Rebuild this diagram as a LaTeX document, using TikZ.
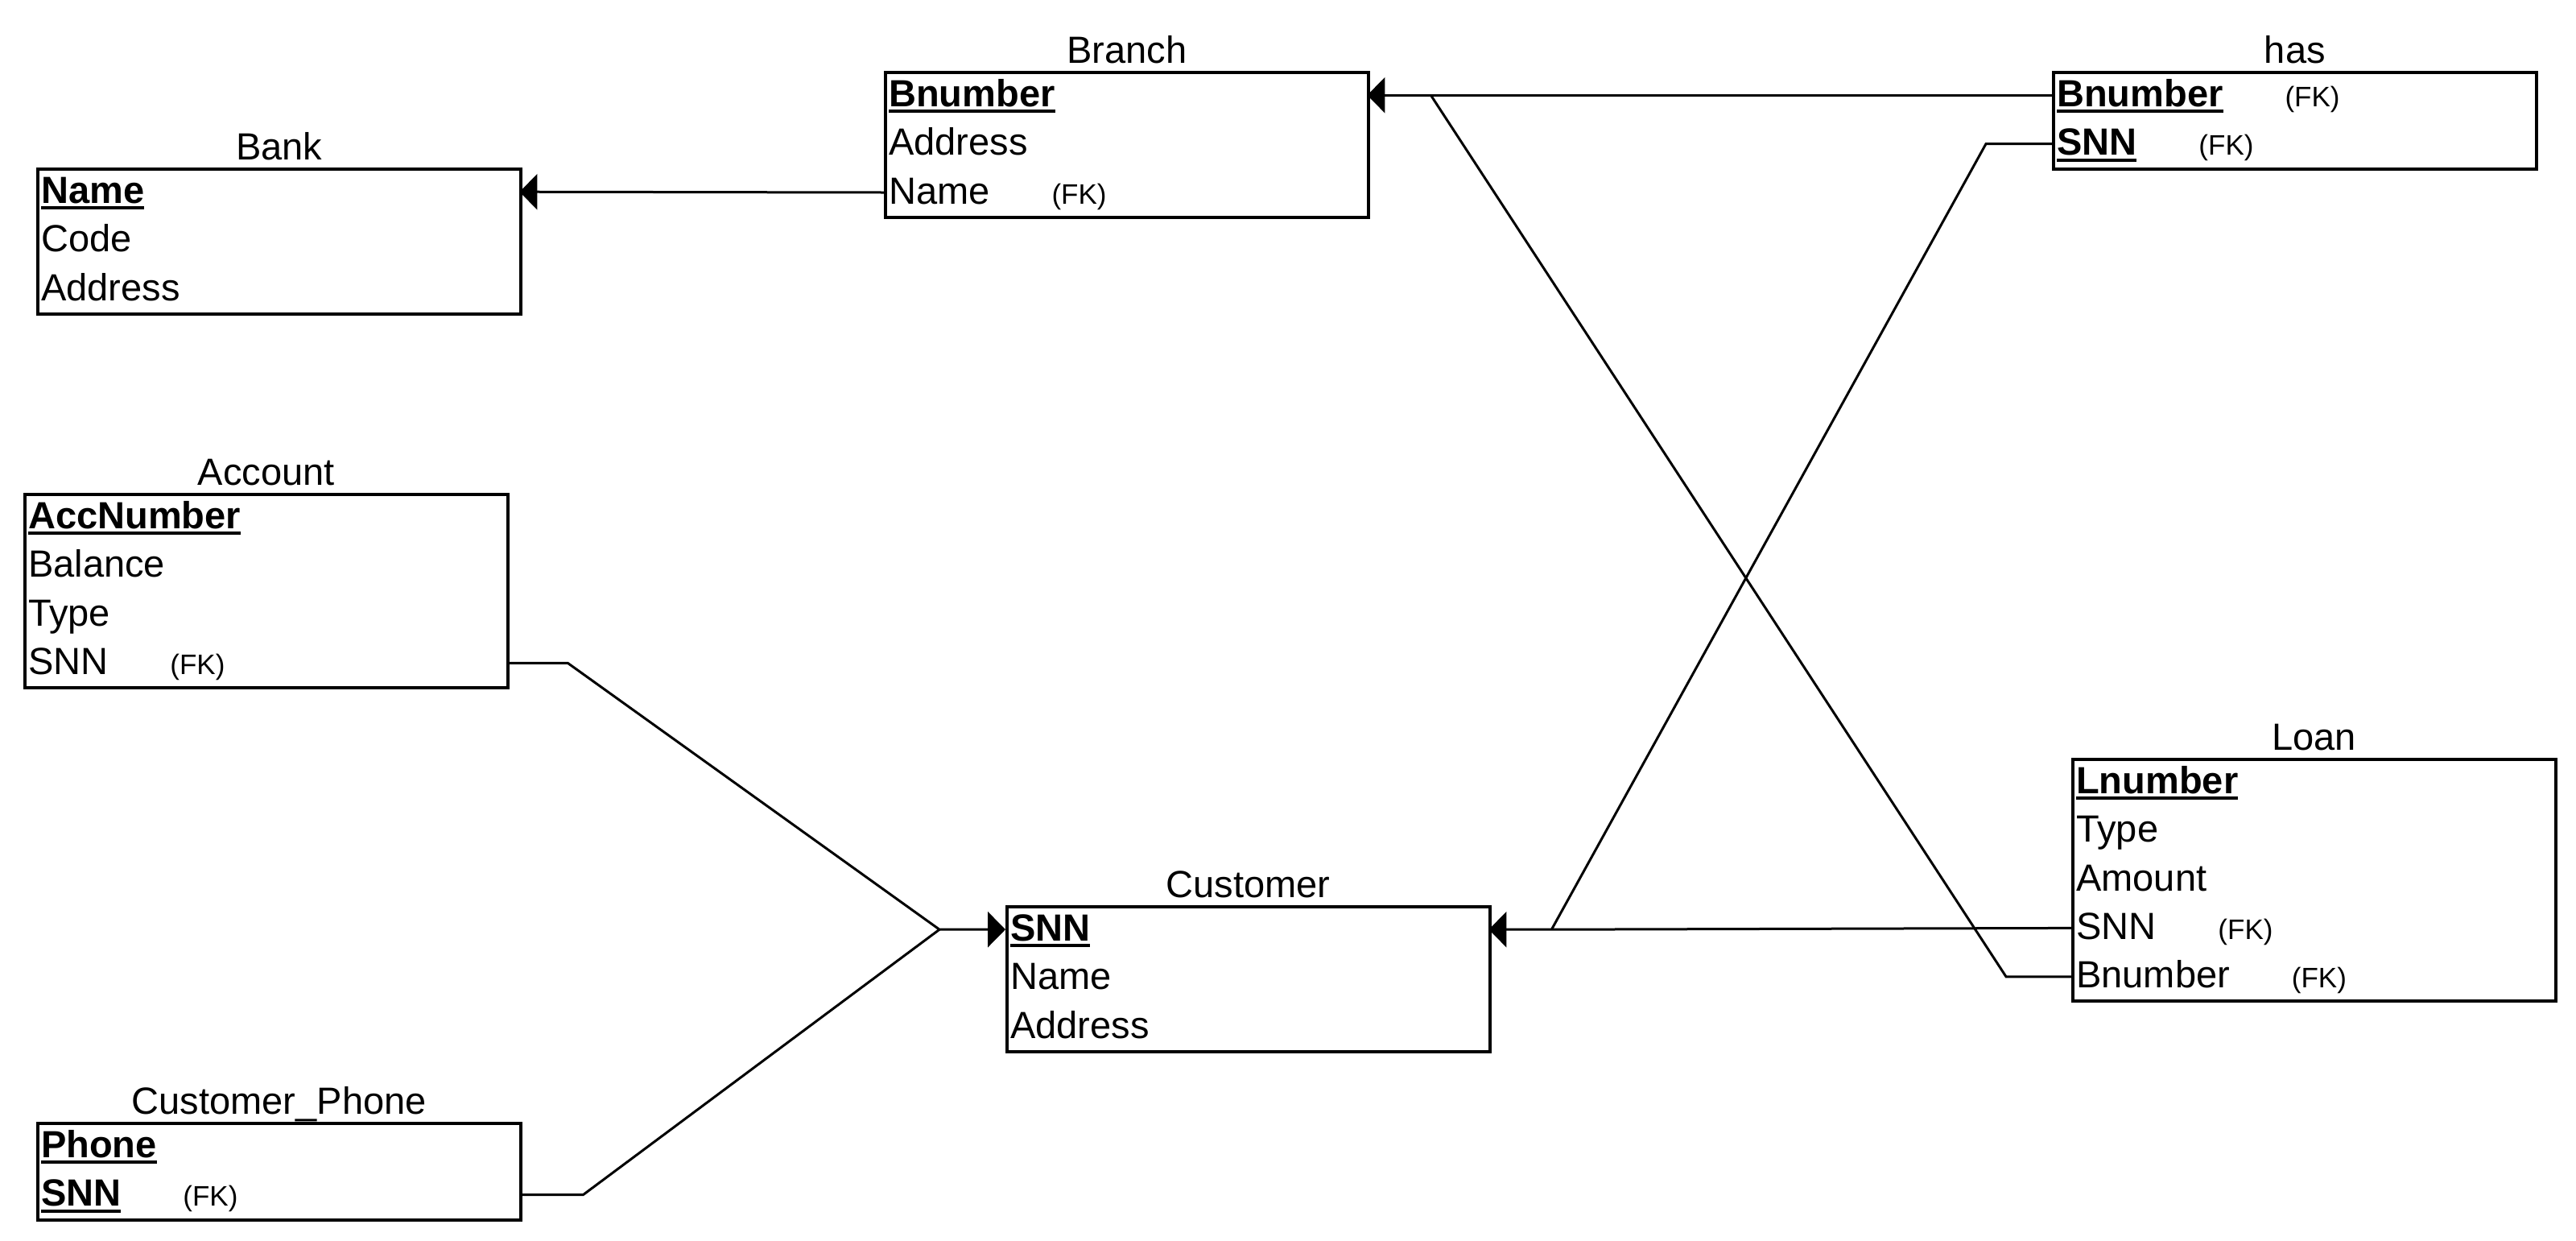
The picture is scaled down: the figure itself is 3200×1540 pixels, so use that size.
\documentclass[tikz,border=0pt]{standalone}
\usepackage{fontspec}
\setmainfont{Liberation Sans}
\usetikzlibrary{arrows.meta,calc}
\newcommand\pkey[1]{\setbox0\hbox{\bfseries #1}\rlap{\rule[-8pt]{\wd0}{4pt}}\box0}
\newcommand\fkmark{\hspace{77pt}{\fontsize{35}{40}\selectfont (FK)}}
\begin{document}
\begin{tikzpicture}[x=1pt,y=-1pt,
  tbl/.style={draw, line width=3.5pt, rectangle, minimum width=600pt, inner sep=0pt, anchor=north west},
  rowbox/.style={rectangle, minimum width=600pt, minimum height=60pt, inner xsep=6pt, inner ysep=0pt, text width=588pt, align=left, text height=36pt, text depth=8pt, anchor=north west, font=\fontsize{47}{50}\selectfont},
  ttl/.style={anchor=base, inner sep=0pt, font=\fontsize{47}{50}\selectfont},
  link/.style={line width=3pt},
  fkarrow/.style={link, -{Triangle[length=22pt,width=44pt]}}]
\useasboundingbox[fill=white] (0,0) rectangle (3200,1540);

% Bank
\node[tbl, minimum height=180pt] (bank) at (45,208) {};
\node[ttl] (bank-t) at ($(bank.north)+(0,-10)$) {Bank};
\node[rowbox] (bank-1) at (bank.north west) {\pkey{Name}};
\node[rowbox] (bank-2) at (bank-1.south west) {Code};
\node[rowbox] (bank-3) at (bank-2.south west) {Address};

% Branch
\node[tbl, minimum height=180pt] (branch) at (1098,88) {};
\node[ttl] (branch-t) at ($(branch.north)+(0,-10)$) {Branch};
\node[rowbox] (branch-1) at (branch.north west) {\pkey{Bnumber}};
\node[rowbox] (branch-2) at (branch-1.south west) {Address};
\node[rowbox] (branch-3) at (branch-2.south west) {Name\fkmark};

% has
\node[tbl, minimum height=120pt] (has) at (2549,88) {};
\node[ttl] (has-t) at ($(has.north)+(0,-10)$) {has};
\node[rowbox] (has-1) at (has.north west) {\pkey{Bnumber}\fkmark};
\node[rowbox] (has-2) at (has-1.south west) {\pkey{SNN}\fkmark};

% Account
\node[tbl, minimum height=240pt] (acc) at (29,612) {};
\node[ttl] (acc-t) at ($(acc.north)+(0,-10)$) {Account};
\node[rowbox] (acc-1) at (acc.north west) {\pkey{AccNumber}};
\node[rowbox] (acc-2) at (acc-1.south west) {Balance};
\node[rowbox] (acc-3) at (acc-2.south west) {Type};
\node[rowbox] (acc-4) at (acc-3.south west) {SNN\fkmark};

% Customer_Phone
\node[tbl, minimum height=120pt] (cp) at (45,1393) {};
\node[ttl] (cp-t) at ($(cp.north)+(0,-10)$) {Customer\_Phone};
\node[rowbox] (cp-1) at (cp.north west) {\pkey{Phone}};
\node[rowbox] (cp-2) at (cp-1.south west) {\pkey{SNN}\fkmark};

% Customer
\node[tbl, minimum height=180pt] (cust) at (1249,1124) {};
\node[ttl] (cust-t) at ($(cust.north)+(0,-10)$) {Customer};
\node[rowbox] (cust-1) at (cust.north west) {\pkey{SNN}};
\node[rowbox] (cust-2) at (cust-1.south west) {Name};
\node[rowbox] (cust-3) at (cust-2.south west) {Address};

% Loan
\node[tbl, minimum height=300pt] (loan) at (2573,941) {};
\node[ttl] (loan-t) at ($(loan.north)+(0,-10)$) {Loan};
\node[rowbox] (loan-1) at (loan.north west) {\pkey{Lnumber}};
\node[rowbox] (loan-2) at (loan-1.south west) {Type};
\node[rowbox] (loan-3) at (loan-2.south west) {Amount};
\node[rowbox] (loan-4) at (loan-3.south west) {SNN\fkmark};
\node[rowbox] (loan-5) at (loan-4.south west) {Bnumber\fkmark};

% junctions
\coordinate (jb) at ($(branch-1.east)+(79,0)$);
\coordinate (jcr) at ($(cust-1.east)+(78,0)$);
\coordinate (jcl) at ($(cust-1.west)+(-82,0)$);

% connectors
\draw[fkarrow] (branch-3.west) -- (bank-1.east);
\draw[fkarrow] (has-1.west) -- (branch-1.east);
\draw[link] (loan-5.west) -- ++(-81,0) -- (jb);
\draw[fkarrow] (loan-4.west) -- (jcr) -- (cust-1.east);
\draw[link] (has-2.west) -- ++(-82,0) -- (jcr);
\draw[fkarrow] (acc-4.east) -- ++(76,0) -- (jcl) -- (cust-1.west);
\draw[link] (cp-2.east) -- ++(79,0) -- (jcl);
\end{tikzpicture}
\end{document}
